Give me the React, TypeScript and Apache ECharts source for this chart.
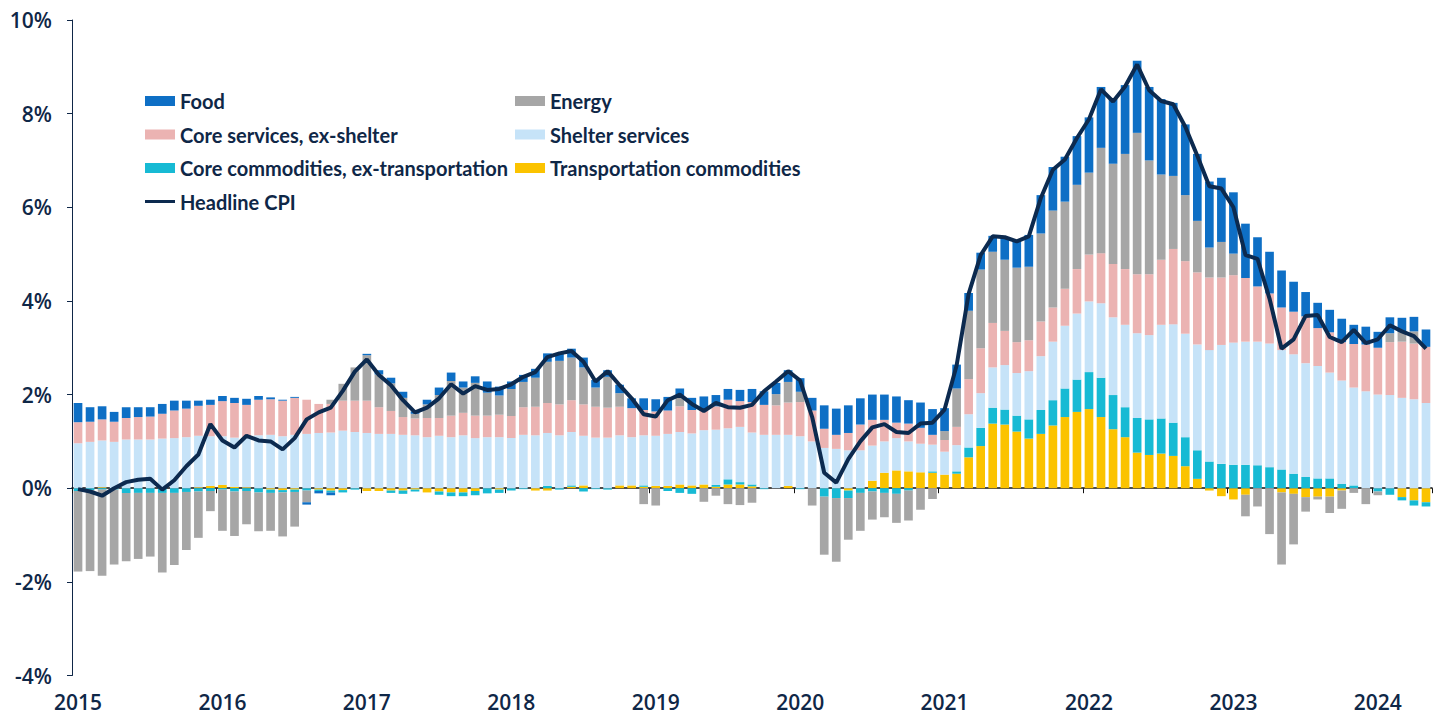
import React, { useEffect, useRef } from "react";
import * as echarts from "echarts";

const years = ["2015", "2016", "2017", "2018", "2019", "2020", "2021", "2022", "2023", "2024"];
const monthsInLastYear = 5;

const food = [
  0.41, 0.31, 0.28, 0.21, 0.23, 0.21, 0.2, 0.21, 0.21, 0.17, 0.11,
  0.11, 0.11, 0.11, 0.13, 0.08, 0.04, 0.02, 0.02, -0.05, -0.05, -0.06, 0.0,
  0.0, 0.03, 0.09, 0.12, 0.13, 0.05, 0.1, 0.16, 0.18, 0.13, 0.14, 0.24,
  0.19, 0.16, 0.15, 0.19, 0.18, 0.16, 0.19, 0.21, 0.16, 0.14, 0.18, 0.21,
  0.25, 0.26, 0.29, 0.14, 0.26, 0.29, 0.24, 0.23, 0.24, 0.28, 0.29, 0.24,
  0.25, 0.29, 0.27, 0.5, 0.56, 0.59, 0.56, 0.54, 0.54, 0.56, 0.5, 0.54,
  0.55, 0.49, 0.51, 0.38, 0.36, 0.34, 0.46, 0.57, 0.68, 0.82, 0.93, 0.96,
  1.04, 1.18, 1.3, 1.38, 1.47, 1.54, 1.57, 1.61, 1.56, 1.51, 1.43, 1.41,
  1.37, 1.31, 1.16, 1.05, 0.89, 0.79, 0.64, 0.52, 0.54, 0.48, 0.5, 0.41,
  0.38, 0.34, 0.34, 0.3, 0.31, 0.37,
];

const energy = [
  -1.72, -1.73, -1.84, -1.6, -1.46, -1.41, -1.36, -1.7, -1.54, -1.24, -0.99,
  -0.43, -0.88, -0.95, -0.71, -0.83, -0.81, -0.94, -0.74, -0.25, 0.0, 0.09, 0.36,
  0.71, 0.97, 0.7, 0.59, 0.41, 0.1, 0.29, 0.49, 0.74, 0.54, 0.7, 0.49,
  0.41, 0.58, 0.54, 0.62, 0.88, 0.93, 0.91, 0.79, 0.41, 0.66, 0.29, 0.0,
  -0.34, -0.37, 0.0, 0.24, 0.0, -0.29, -0.16, -0.34, -0.36, -0.31, 0.0, 0.24,
  0.44, 0.22, -0.37, -1.24, -1.36, -0.89, -0.81, -0.6, -0.52, -0.62, -0.64, -0.46,
  -0.23, 0.19, 0.82, 1.46, 1.68, 1.52, 1.52, 1.59, 1.57, 1.88, 2.07, 1.86,
  1.8, 1.75, 2.25, 2.14, 2.46, 3.02, 2.43, 1.82, 1.56, 1.41, 1.1, 0.64,
  0.76, 0.46, -0.46, -0.39, -0.98, -1.54, -1.08, -0.31, -0.06, -0.35, -0.39, -0.1,
  -0.34, -0.08, 0.19, 0.21, 0.26, 0.0,
];

const coreServices = [
  0.45, 0.43, 0.45, 0.43, 0.46, 0.48, 0.49, 0.53, 0.59, 0.61, 0.64,
  0.67, 0.75, 0.74, 0.71, 0.76, 0.76, 0.76, 0.79, 0.73, 0.62, 0.61, 0.64,
  0.67, 0.69, 0.57, 0.49, 0.38, 0.36, 0.41, 0.38, 0.46, 0.48, 0.48, 0.46,
  0.48, 0.47, 0.59, 0.61, 0.64, 0.66, 0.68, 0.67, 0.66, 0.64, 0.61, 0.62,
  0.54, 0.52, 0.5, 0.55, 0.5, 0.43, 0.5, 0.61, 0.55, 0.65, 0.64, 0.63,
  0.69, 0.73, 0.66, 0.41, 0.3, 0.37, 0.55, 0.55, 0.46, 0.33, 0.38, 0.34,
  0.21, 0.25, 0.39, 0.75, 0.96, 0.95, 0.73, 0.66, 0.66, 0.74, 0.73, 0.79,
  0.95, 1.0, 1.07, 1.14, 1.19, 1.26, 1.3, 1.39, 1.61, 1.55, 1.54, 1.55,
  1.44, 1.44, 1.36, 1.18, 1.07, 0.91, 0.91, 1.0, 0.81, 0.86, 0.82, 0.93,
  1.0, 1.0, 1.13, 1.2, 1.19, 1.2,
];

const shelter = [
  0.96, 0.99, 1.0, 0.99, 1.04, 1.04, 1.04, 1.06, 1.07, 1.09, 1.1,
  1.06, 1.04, 1.05, 1.05, 1.13, 1.14, 1.11, 1.14, 1.16, 1.18, 1.19, 1.23,
  1.2, 1.18, 1.16, 1.16, 1.14, 1.13, 1.09, 1.12, 1.09, 1.13, 1.07, 1.09,
  1.09, 1.07, 1.14, 1.13, 1.13, 1.13, 1.14, 1.06, 1.08, 1.08, 1.07, 1.03,
  1.07, 1.07, 1.11, 1.12, 1.11, 1.16, 1.18, 1.09, 1.18, 1.11, 1.14, 1.14,
  1.09, 1.11, 1.0, 0.86, 0.84, 0.81, 0.81, 0.75, 0.67, 0.69, 0.64, 0.61,
  0.57, 0.49, 0.56, 0.71, 0.74, 0.86, 0.95, 0.91, 1.03, 1.15, 1.25, 1.34,
  1.41, 1.51, 1.59, 1.66, 1.76, 1.81, 1.8, 2.0, 2.1, 2.21, 2.26, 2.38,
  2.54, 2.61, 2.63, 2.64, 2.64, 2.55, 2.55, 2.43, 2.4, 2.26, 2.21, 2.09,
  2.07, 2.0, 1.99, 1.93, 1.9, 1.82,
];

const coreCommodities = [
  -0.06, -0.04, -0.03, -0.03, -0.1, -0.1, -0.1, -0.1, -0.1, -0.08, -0.07,
  -0.06, -0.03, -0.07, -0.06, -0.09, -0.07, -0.05, -0.05, -0.05, -0.03, -0.04, -0.05,
  -0.03, 0.0, 0.0, -0.05, -0.07, -0.04, 0.0, -0.07, -0.08, -0.08, -0.09, -0.11,
  -0.07, -0.05, -0.02, 0.0, 0.05, -0.03, 0.03, -0.07, -0.02, -0.03, 0.0, 0.0,
  0.03, 0.0, -0.06, -0.1, -0.12, 0.0, 0.04, 0.11, 0.05, 0.04, -0.02, 0.0,
  0.0, -0.02, 0.0, -0.18, -0.21, -0.16, -0.1, -0.07, -0.1, -0.12, -0.05, 0.0,
  0.03, 0.0, 0.05, 0.21, 0.39, 0.34, 0.32, 0.34, 0.41, 0.51, 0.54, 0.61,
  0.69, 0.79, 0.84, 0.73, 0.64, 0.74, 0.76, 0.75, 0.71, 0.62, 0.61, 0.57,
  0.52, 0.5, 0.5, 0.49, 0.45, 0.4, 0.31, 0.24, 0.21, 0.21, 0.09, 0.06,
  0.0, -0.07, -0.14, -0.07, -0.11, -0.09,
];

const transportation = [
  0.0, 0.0, 0.02, 0.0, 0.0, 0.0, 0.0, 0.0, 0.0, 0.0, 0.02,
  0.05, 0.07, 0.03, 0.02, 0.0, -0.03, -0.04, -0.03, 0.0, -0.03, -0.05, -0.04,
  0.0, -0.06, -0.06, -0.05, -0.05, -0.03, -0.09, -0.07, -0.09, -0.09, -0.06, 0.0,
  -0.03, 0.0, 0.0, -0.05, -0.05, 0.0, 0.03, 0.06, 0.0, 0.0, 0.06, 0.06,
  0.03, 0.05, 0.05, 0.08, 0.06, 0.08, 0.03, 0.08, 0.08, 0.04, 0.0, 0.0,
  0.05, 0.0, 0.0, 0.0, 0.0, -0.05, 0.0, 0.16, 0.33, 0.38, 0.36, 0.34,
  0.33, 0.29, 0.31, 0.66, 0.9, 1.38, 1.36, 1.21, 1.06, 1.16, 1.34, 1.52,
  1.63, 1.69, 1.52, 1.26, 1.09, 0.76, 0.71, 0.74, 0.69, 0.47, 0.2, -0.05,
  -0.17, -0.24, -0.14, 0.0, 0.0, -0.09, -0.12, -0.19, -0.18, -0.18, -0.05, 0.0,
  0.0, 0.0, 0.0, -0.19, -0.26, -0.3,
];

const headline = [
  -0.02, -0.07, -0.16, 0.0, 0.13, 0.18, 0.2, -0.03, 0.17, 0.47, 0.72,
  1.37, 1.02, 0.87, 1.12, 1.02, 1.0, 0.83, 1.07, 1.47, 1.62, 1.72, 2.08,
  2.49, 2.75, 2.42, 2.2, 1.88, 1.62, 1.72, 1.92, 2.22, 2.02, 2.18, 2.1,
  2.12, 2.22, 2.38, 2.48, 2.8, 2.88, 2.93, 2.7, 2.28, 2.5, 2.2, 1.92,
  1.58, 1.53, 1.88, 2.0, 1.8, 1.65, 1.82, 1.73, 1.72, 1.78, 2.07, 2.28,
  2.5, 2.3, 1.52, 0.33, 0.12, 0.62, 1.0, 1.3, 1.37, 1.2, 1.18, 1.38,
  1.4, 1.68, 2.62, 4.15, 4.98, 5.38, 5.36, 5.27, 5.38, 6.2, 6.8, 7.02,
  7.48, 7.88, 8.52, 8.26, 8.58, 9.05, 8.5, 8.27, 8.2, 7.72, 7.1, 6.45,
  6.4, 6.0, 4.98, 4.9, 4.05, 2.98, 3.18, 3.68, 3.7, 3.23, 3.12, 3.38,
  3.1, 3.18, 3.48, 3.35, 3.25, 2.98,
];

const categories: string[] = [];
years.forEach((y, yi) => {
  const n = yi === years.length - 1 ? monthsInLastYear : 12;
  for (let m = 1; m <= n; m++) categories.push(`${y}-${m < 10 ? "0" + m : m}`);
});

const NAVY = "#0f2747";
const LINE = "#0c2a4f";
const labelFont = { fontFamily: "Open Sans", fontWeight: 600 as any, fontSize: 21, color: NAVY };
const legendText = { fontFamily: "Lato", fontWeight: "bold" as any, fontSize: 20, lineHeight: 20, color: NAVY };

export default function App() {
  const ref = useRef<HTMLDivElement>(null);
  useEffect(() => {
    if (!ref.current) return;
    const chart = echarts.init(ref.current, undefined, { renderer: "svg" });
    const bar = (name: string, data: number[], color: string) => ({
      name,
      type: "bar",
      stack: "total",
      data,
      barWidth: "72%",
      itemStyle: { color },
      emphasis: { disabled: true },
    });
    const yearTick = (i: number) => i % 12 === 0;
    const legendBase = {
      orient: "vertical",
      top: 91,
      padding: 0,
      itemWidth: 30,
      itemHeight: 10,
      itemGap: 13.5,
      selectedMode: false,
      textStyle: legendText,
    };
    chart.setOption({
      animation: false,
      grid: { left: 72, right: 15, top: 20, bottom: 41.5, containLabel: false },
      legend: [
        {
          ...legendBase,
          left: 145,
          data: [
            { name: "Food", icon: "rect" },
            { name: "Core services, ex-shelter", icon: "rect" },
            { name: "Core commodities, ex-transportation", icon: "rect" },
            { name: "Headline CPI", icon: "path://M0,0H30V3H0Z" },
          ],
        },
        {
          ...legendBase,
          left: 515,
          icon: "rect",
          data: ["Energy", "Shelter services", "Transportation commodities"],
        },
      ],
      xAxis: [
        {
          type: "category",
          data: categories,
          position: "bottom",
          boundaryGap: true,
          axisLine: { show: false, onZero: false },
          axisTick: { show: false },
          axisLabel: {
            interval: yearTick,
            formatter: (v: string) => v.slice(0, 4),
            margin: 16,
            ...labelFont,
          },
          splitLine: { show: false },
        },
        {
          type: "category",
          data: categories,
          position: "top",
          boundaryGap: true,
          axisLine: { show: true, onZero: true, lineStyle: { color: "#111111", width: 1.5 } },
          axisTick: { show: true, inside: true, length: 5, interval: yearTick, lineStyle: { color: "#111111", width: 1 } },
          axisLabel: { show: false },
          splitLine: { show: false },
        },
      ],
      yAxis: {
        type: "value",
        min: -4,
        max: 10,
        interval: 2,
        axisLine: { show: true, lineStyle: { color: NAVY, width: 1 } },
        axisTick: { show: true, length: 5, lineStyle: { color: NAVY } },
        splitLine: { show: false },
        axisLabel: { formatter: "{value}%", margin: 20, ...labelFont },
      },
      series: [
        bar("Transportation commodities", transportation, "#fbc300"),
        bar("Core commodities, ex-transportation", coreCommodities, "#17bad4"),
        bar("Shelter services", shelter, "#c6e3f8"),
        bar("Core services, ex-shelter", coreServices, "#ebb3b2"),
        bar("Energy", energy, "#a6a6a6"),
        bar("Food", food, "#0e6fc5"),
        {
          name: "Headline CPI",
          type: "line",
          data: headline,
          symbol: "none",
          z: 10,
          lineStyle: { color: LINE, width: 4 },
          itemStyle: { color: LINE },
          emphasis: { disabled: true },
        },
      ],
    });
    return () => chart.dispose();
  }, []);
  return (
    <div
      ref={ref}
      style={{ position: "fixed", left: 0, top: 0, width: 1447, height: 717, background: "#ffffff" }}
    />
  );
}
